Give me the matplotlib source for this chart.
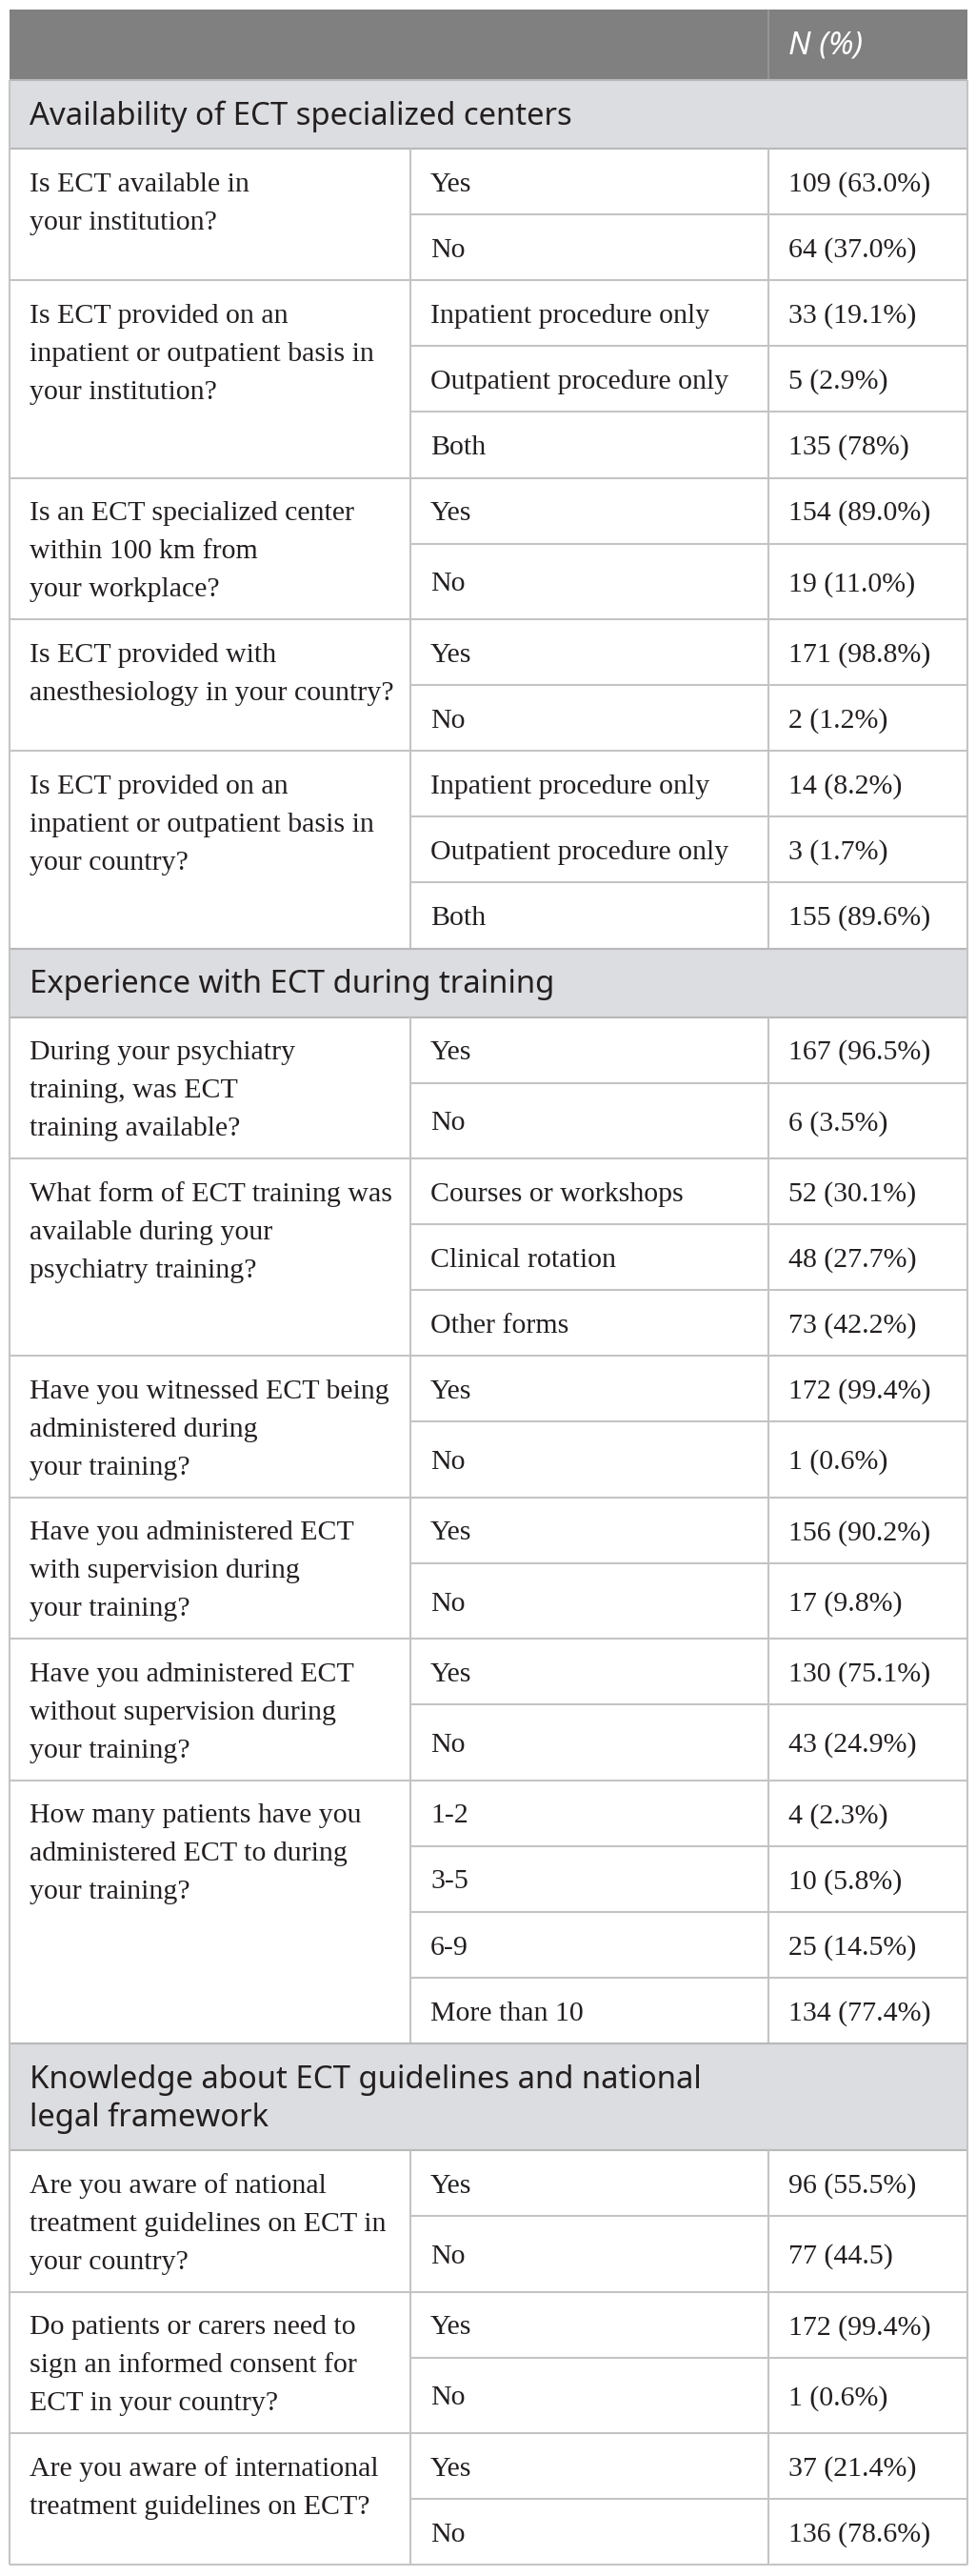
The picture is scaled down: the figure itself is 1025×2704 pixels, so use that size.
import matplotlib
matplotlib.use("Agg")
import matplotlib.pyplot as plt
from matplotlib.patches import Rectangle

# ---- table content ----
section_titles = [
    "Availability of ECT specialized centers",
    "Experience with ECT during training",
    "Knowledge about ECT guidelines and national\nlegal framework",
]

question_section = [0, 0, 0, 0, 0, 1, 1, 1, 1, 1, 1, 2, 2, 2]

questions = [
    "Is ECT available in\nyour institution?",
    "Is ECT provided on an\ninpatient or outpatient basis in\nyour institution?",
    "Is an ECT specialized center\nwithin 100 km from\nyour workplace?",
    "Is ECT provided with\nanesthesiology in your country?",
    "Is ECT provided on an\ninpatient or outpatient basis in\nyour country?",
    "During your psychiatry\ntraining, was ECT\ntraining available?",
    "What form of ECT training was\navailable during your\npsychiatry training?",
    "Have you witnessed ECT being\nadministered during\nyour training?",
    "Have you administered ECT\nwith supervision during\nyour training?",
    "Have you administered ECT\nwithout supervision during\nyour training?",
    "How many patients have you\nadministered ECT to during\nyour training?",
    "Are you aware of national\ntreatment guidelines on ECT in\nyour country?",
    "Do patients or carers need to\nsign an informed consent for\nECT in your country?",
    "Are you aware of international\ntreatment guidelines on ECT?",
]

answers = [
    ["Yes", "No"],
    ["Inpatient procedure only", "Outpatient procedure only", "Both"],
    ["Yes", "No"],
    ["Yes", "No"],
    ["Inpatient procedure only", "Outpatient procedure only", "Both"],
    ["Yes", "No"],
    ["Courses or workshops", "Clinical rotation", "Other forms"],
    ["Yes", "No"],
    ["Yes", "No"],
    ["Yes", "No"],
    ["1-2", "3-5", "6-9", "More than 10"],
    ["Yes", "No"],
    ["Yes", "No"],
    ["Yes", "No"],
]

counts = [
    [109, 64],
    [33, 5, 135],
    [154, 19],
    [171, 2],
    [14, 3, 155],
    [167, 6],
    [52, 48, 73],
    [172, 1],
    [156, 17],
    [130, 43],
    [4, 10, 25, 134],
    [96, 77],
    [172, 1],
    [37, 136],
]

# percentages kept as printed in the source (some lack decimals / % sign)
percents = [
    ["63.0%", "37.0%"],
    ["19.1%", "2.9%", "78%"],
    ["89.0%", "11.0%"],
    ["98.8%", "1.2%"],
    ["8.2%", "1.7%", "89.6%"],
    ["96.5%", "3.5%"],
    ["30.1%", "27.7%", "42.2%"],
    ["99.4%", "0.6%"],
    ["90.2%", "9.8%"],
    ["75.1%", "24.9%"],
    ["2.3%", "5.8%", "14.5%", "77.4%"],
    ["55.5%", "44.5"],
    ["99.4%", "0.6%"],
    ["21.4%", "78.6%"],
]

header_label = "N (%)"

# ---- layout / style ----
W, H = 1025, 2704
left, right = 10, 1016
col1, col2 = 431, 807
top = 10
header_h = 74
row_h = 69.1
line_gap = 40
band_h = 72
pad_x = 21

header_col = "#808080"
band_col = "#dcdde0"
grid_col = "#c4c4c4"
text_col = "#231f20"
serif = ["Liberation Serif", "DejaVu Serif"]
sans = ["Noto Sans", "DejaVu Sans"]
cell_fs = 21.5
band_fs = 23.7
head_fs = 24

fig = plt.figure(figsize=(W / 100, H / 100), dpi=100)
ax = fig.add_axes([0, 0, 1, 1])
ax.set_xlim(0, W)
ax.set_ylim(H, 0)
ax.axis("off")


def baseline(center):
    return center + 10


# header
ax.add_patch(Rectangle((left, top), right - left, header_h, color=header_col, lw=0))
ax.vlines(col2, top, top + header_h, color="#9a9a9a", lw=1.2)
ax.text(col2 + pad_x, top + header_h / 2 + 1, header_label, family=sans, style="italic",
        fontsize=head_fs, color="white", va="center")

y = top + header_h
prev_section = -1
for qi, q in enumerate(questions):
    sec = question_section[qi]
    if sec != prev_section:
        title = section_titles[sec]
        n_lines = title.count("\n") + 1
        bh = band_h + (n_lines - 1) * line_gap
        ax.add_patch(Rectangle((left, y), right - left, bh, color=band_col, lw=0))
        for li, line in enumerate(title.split("\n")):
            ax.text(left + pad_x, baseline(y + 36 + li * line_gap) + 1, line, family=sans,
                    fontsize=band_fs, color=text_col, va="baseline")
        ax.hlines([y, y + bh], left, right, color="#b8b8b8", lw=1.5)
        y += bh
        prev_section = sec

    q_lines = q.split("\n")
    n_rows = len(answers[qi])
    gh = max(n_rows * row_h, 68.5 + (len(q_lines) - 1) * line_gap)
    for li, line in enumerate(q_lines):
        ax.text(left + pad_x, baseline(y + row_h / 2 + li * line_gap), line, family=serif,
                fontsize=cell_fs, color=text_col, va="baseline")
    ry = y
    for ri, (a, c, p) in enumerate(zip(answers[qi], counts[qi], percents[qi])):
        rh = row_h if ri < n_rows - 1 else (y + gh - ry)
        cy = baseline(ry + rh / 2)
        ax.text(col1 + pad_x, cy, a, family=serif, fontsize=cell_fs, color=text_col, va="baseline")
        ax.text(col2 + pad_x, cy, f"{c} ({p})", family=serif, fontsize=cell_fs,
                color=text_col, va="baseline")
        if ri > 0:
            ax.hlines(ry, col1, right, color=grid_col, lw=1.5)
        ry += rh
    ax.vlines([col1, col2], y, y + gh, color=grid_col, lw=1.5)
    ax.hlines(y + gh, left, right, color=grid_col, lw=1.5)
    y += gh

ax.vlines([left, right], top + header_h, y, color=grid_col, lw=1.5)

fig.savefig("out.png", dpi=100, facecolor="white")
